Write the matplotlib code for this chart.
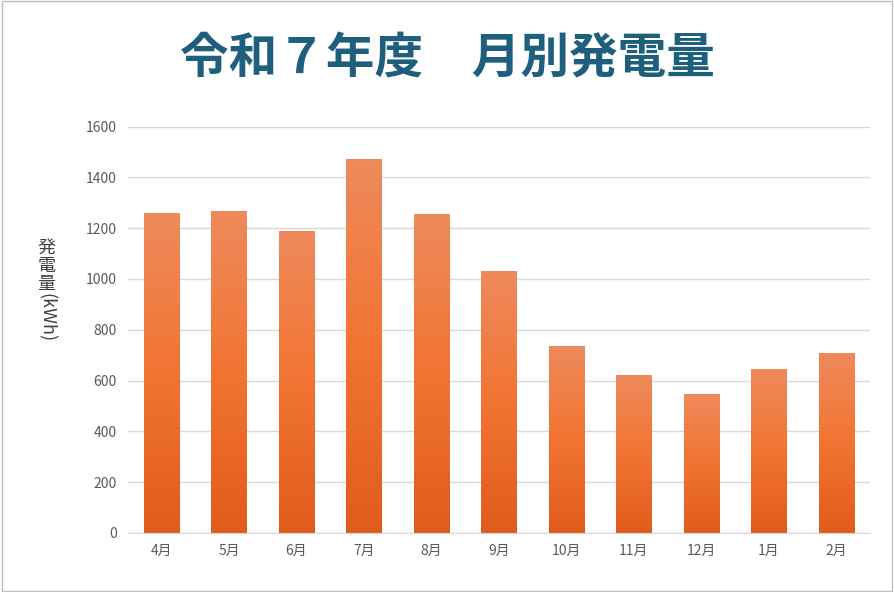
import numpy as np
import matplotlib.pyplot as plt
from matplotlib.colors import LinearSegmentedColormap

plt.rcParams['font.family'] = ['Noto Sans CJK JP', 'DejaVu Sans']

months = ['4月', '5月', '6月', '7月', '8月', '9月', '10月', '11月', '12月', '1月', '2月']
kwh = [1260, 1268, 1190, 1472, 1257, 1032, 737, 623, 548, 646, 709]

fig = plt.figure(figsize=(8.94, 5.92), dpi=100)
ax = fig.add_axes([0.143, 0.1, 0.83, 0.686])

bars = ax.bar(months, kwh, width=0.52, color='none')
cmap = LinearSegmentedColormap.from_list('g', ['#E05C1C', '#F27432', '#EE8A5C'])
grad = np.linspace(0, 1, 256).reshape(-1, 1)
for b in bars:
    x0, h, w = b.get_x(), b.get_height(), b.get_width()
    im = ax.imshow(grad, cmap=cmap, origin='lower', aspect='auto',
                   extent=[x0, x0 + w, 0, h], zorder=2)
    im.set_clip_path(b)

ax.set_xlim(-0.5, len(months) - 0.5)
ax.set_ylim(0, 1600)
ax.set_yticks(range(0, 1601, 200))
ax.grid(axis='y', color='#D9D9D9', linewidth=1, zorder=0)
ax.set_axisbelow(True)
for s in ['top', 'right', 'left']:
    ax.spines[s].set_visible(False)
ax.spines['bottom'].set_color('#D9D9D9')
ax.tick_params(length=0, labelsize=10, colors='#595959', pad=8)

# vertical y label: upright kanji, rotated (kWh)
fig.text(0.052, 0.505, '発\n電\n量', ha='center', va='bottom', fontsize=13,
         color='#404040', linespacing=1.0)
fig.text(0.052, 0.505, '(kWh)', ha='center', va='top', fontsize=13,
         color='#404040', rotation=270)

fig.text(0.5, 0.9, '令和７年度　月別発電量', ha='center', va='center',
         fontsize=35, fontweight='bold', color='#1E5F7E')
fig.patches.append(plt.Rectangle((0.002, 0.002), 0.996, 0.996, transform=fig.transFigure,
                                 fill=False, edgecolor='#BFBFBF', linewidth=1))
fig.savefig('out.png')
